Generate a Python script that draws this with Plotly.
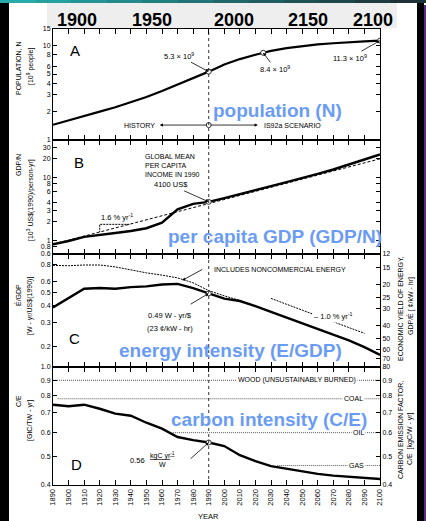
import math
import plotly.graph_objects as go

# ---------------- data ----------------
pop_years = [1890, 1900, 1910, 1920, 1930, 1940, 1950, 1960, 1970, 1980, 1990,
             2000, 2010, 2020, 2025, 2030, 2040, 2050, 2060, 2070, 2080, 2090, 2100]
pop_vals = [1.45, 1.62, 1.82, 2.0, 2.22, 2.5, 2.85, 3.3, 3.85, 4.5, 5.3,
            6.3, 7.2, 8.0, 8.4, 8.8, 9.4, 9.9, 10.3, 10.6, 10.9, 11.1, 11.3]
pop_marked_years = [1990, 2025, 2100]
pop_marked_vals = [5.3, 8.4, 11.3]

years = [1890, 1900, 1910, 1920, 1930, 1940, 1950, 1960, 1970, 1980, 1990,
         2000, 2010, 2020, 2030, 2040, 2050, 2060, 2070, 2080, 2090, 2100]
gdp_vals = [0.86, 0.97, 1.13, 1.2, 1.3, 1.4, 1.55, 1.9, 3.1, 3.8, 4.1,
            4.7, 5.4, 6.3, 7.3, 8.5, 9.8, 11.5, 13.5, 16.0, 19.5, 23.5]
gdp_trend_years = [1890, 2100]
gdp_trend_vals = [0.86, 20.0]
slope_tri_years = [1939, 1920, 1920]
slope_tri_vals = [1.79, 1.79, 1.35]

eint_vals = [0.387, 0.453, 0.53, 0.536, 0.53, 0.544, 0.551, 0.569, 0.575, 0.536, 0.49,
             0.448, 0.431, 0.396, 0.359, 0.326, 0.296, 0.268, 0.242, 0.222, 0.198, 0.174]
noncomm_years = [1890, 1900, 1910, 1920, 1930, 1940, 1950, 1960, 1970, 1980, 1990, 2000, 2010]
noncomm_vals = [0.785, 0.78, 0.79, 0.79, 0.765, 0.724, 0.692, 0.666, 0.636, 0.585, 0.513, 0.47, 0.435]
decline_years = [2030, 2090]
decline_vals = [0.45, 0.25]

cint_vals = [0.745, 0.736, 0.745, 0.722, 0.695, 0.684, 0.648, 0.619, 0.58, 0.566, 0.556,
             0.541, 0.504, 0.481, 0.463, 0.454, 0.443, 0.436, 0.43, 0.426, 0.422, 0.419]

fuel_names = ["WOOD (UNSUSTAINABLY BURNED)", "COAL", "OIL", "GAS"]
fuel_vals = [0.9, 0.78, 0.6, 0.465]
fuel_start = [1890, 1893, 1967, 2034]
fuel_label_year = [2047, 2083, 2086, 2085]

top_labels = ["1900", "1950", "2000", "2150", "2100"]

A_ticks = [1, 2, 3, 4, 5, 6, 8, 10, 15]
B_ticks = [0.6, 0.8, 1, 2, 3, 4, 6, 8, 10, 20, 30]
C_ticks = [0.2, 0.3, 0.4, 0.5, 0.6, 0.8]
C_right_ticks = [12, 15, 20, 25, 30, 40, 50, 60, 70, 80]
D_ticks = [0.4, 0.5, 0.6, 0.7, 0.8, 0.9, 1.0]
D_right_ticks = [0.4, 0.5, 0.6, 0.7, 0.8, 0.9]

# ---------------- layout helpers ----------------
W, H = 426, 521
ML, MR, MT, MB = 53, 46, 29, 36
PW, PH = W - ML - MR, H - MT - MB


def px_x(p):
    return (p - ML) / PW


def px_y(p):
    return (H - MB - p) / PH


L = math.log10
FONT = "Liberation Sans, Arial, sans-serif"
BLUE = "#6a9cf6"
TICKSIZE = 7
# conversion W-yr/$  ->  cents/kWh
CENT_PER_KWH = 100 / 8.766

fig = go.Figure()

def line(x, y, xa, ya, width=2.4, dash=None, color="black"):
    fig.add_trace(go.Scatter(x=x, y=y, xaxis=xa, yaxis=ya, mode="lines",
                             line=dict(color=color, width=width, dash=dash),
                             hoverinfo="skip", showlegend=False))

def dots(x, y, xa, ya):
    fig.add_trace(go.Scatter(x=x, y=y, xaxis=xa, yaxis=ya, mode="markers",
                             marker=dict(symbol="circle", size=5, color="white",
                                         line=dict(color="#333", width=1)),
                             hoverinfo="skip", showlegend=False))

# Panel A
line(pop_years, pop_vals, "x", "y", width=2.2)
# Panel B
line(gdp_trend_years, gdp_trend_vals, "x2", "y2", width=1, dash="3px,2px")
line(slope_tri_years, slope_tri_vals, "x2", "y2", width=1, dash="2px,1px")
line(years, gdp_vals, "x2", "y2")
# Panel C
line(noncomm_years, noncomm_vals, "x3", "y3", width=1, dash="2px,1px")
line(decline_years, decline_vals, "x3", "y3", width=1, dash="2px,1px")
line(years, eint_vals, "x3", "y3")
fig.add_trace(go.Scatter(x=[1990], y=[0.49], xaxis="x3", yaxis="y4", mode="markers",
                         marker=dict(opacity=0), hoverinfo="skip", showlegend=False))
# Panel D
for name, v, s in zip(fuel_names, fuel_vals, fuel_start):
    line([s, 2100], [v, v], "x4", "y5", width=1, dash="1px,1px", color="#555")
line(years, cint_vals, "x4", "y5")
fig.add_trace(go.Scatter(x=[1990], y=[0.556], xaxis="x4", yaxis="y6", mode="markers",
                         marker=dict(opacity=0), hoverinfo="skip", showlegend=False))

# markers
dots(pop_marked_years, pop_marked_vals, "x", "y")
dots([1990], [1.44], "x", "y")
dots([1990], [gdp_vals[years.index(1990)]], "x2", "y2")
dots([1990], [eint_vals[years.index(1990)]], "x3", "y3")
dots([1990], [cint_vals[years.index(1990)]], "x4", "y5")

# ---------------- axes ----------------
xcommon = dict(range=[1890, 2100], tick0=1890, dtick=10, ticks="inside", ticklen=5,
               showline=True, linecolor="black", linewidth=1, mirror="ticks",
               showgrid=False, zeroline=False, tickcolor="black",
               tickfont=dict(size=TICKSIZE + 0.5, family=FONT, color="black"))
ycommon = dict(type="log", ticks="inside", ticklen=4, showline=True, linecolor="black",
               linewidth=1, showgrid=False, zeroline=False, tickcolor="black",
               tickfont=dict(size=TICKSIZE, family=FONT, color="black"))

def fmt(v):
    return ("%g" % v) if v != 1.0 else "1"

dA = [px_y(140), 1.0]
dB = [px_y(254), px_y(140)]
dC = [px_y(366.7), px_y(254)]
dD = [0.0, px_y(366.7)]

rangeC = [L(CENT_PER_KWH / 80), L(CENT_PER_KWH / 12)]

fig.update_layout(
    xaxis=dict(xcommon, anchor="y", showticklabels=False, matches="x4"),
    xaxis2=dict(xcommon, anchor="y2", showticklabels=False, matches="x4"),
    xaxis3=dict(xcommon, anchor="y3", showticklabels=False, matches="x4"),
    xaxis4=dict(xcommon, anchor="y5", tickangle=-90),
    yaxis=dict(ycommon, domain=dA, range=[0, L(15)], anchor="x", mirror="ticks",
               tickvals=A_ticks, ticktext=[fmt(v) for v in A_ticks]),
    yaxis2=dict(ycommon, domain=dB, range=[L(0.6), L(40)], anchor="x2", mirror="ticks",
                tickvals=B_ticks, ticktext=[fmt(v) for v in B_ticks]),
    yaxis3=dict(ycommon, domain=dC, range=rangeC, anchor="x3",
                tickvals=C_ticks, ticktext=[fmt(v) for v in C_ticks]),
    yaxis4=dict(ycommon, domain=dC, range=rangeC, anchor="x3", overlaying="y3", side="right",
                tickvals=[CENT_PER_KWH / v for v in C_right_ticks],
                ticktext=[str(v) for v in C_right_ticks]),
    yaxis5=dict(ycommon, domain=dD, range=[L(0.4), 0], anchor="x4",
                tickvals=D_ticks, ticktext=["%.1f" % v for v in D_ticks]),
    yaxis6=dict(ycommon, domain=dD, range=[L(0.4), 0], anchor="x4", overlaying="y5", side="right",
                tickvals=D_right_ticks, ticktext=["%.1f" % v for v in D_right_ticks]),
)

# ---------------- annotations ----------------
ann = []

def txt(text, x, y, xref, yref, size=7.5, **kw):
    d = dict(text=text, x=x, y=y, xref=xref, yref=yref, showarrow=False,
             xanchor="center", yanchor="middle",
             font=dict(size=size, family=FONT, color=kw.pop("color", "black")))
    d.update(kw)
    ann.append(d)

def arrow(text, x, y, xref, yref, ax, ay, size=7.5, **kw):
    d = dict(text=text, x=x, y=y, xref=xref, yref=yref, showarrow=True, ax=ax, ay=ay,
             arrowhead=2, arrowsize=0.8, arrowwidth=0.8, arrowcolor="black",
             font=dict(size=size, family=FONT, color="black"))
    d.update(kw)
    ann.append(d)

# panel letters
txt("A", 1904, L(8.8), "x", "y", size=15)
txt("B", 1907, L(17.5), "x2", "y2", size=15)
txt("C", 1904, L(0.228), "x3", "y3", size=15)
txt("D", 1905, L(0.47), "x4", "y5", size=15)

# panel A
arrow("5.3 × 10<sup>9</sup>", 1990, L(5.3), "x", "y", -30, -16)
arrow("8.4 × 10<sup>9</sup>", 2025, L(8.4), "x", "y", 12, 16)
arrow("11.3 × 10<sup>9</sup>", 2100, L(11.3), "x", "y", -30, 17)
txt("HISTORY", 1956.6, L(1.44), "x", "y", size=7, xanchor="right")
txt("IS92a SCENARIO", 2024, L(1.44), "x", "y", size=7, xanchor="left")
for head in (1958.6, 2021.5):
    ann.append(dict(x=head, y=L(1.44), ax=1990, ay=L(1.44), xref="x", yref="y",
                    axref="x", ayref="y", text=" ", showarrow=True, arrowhead=2,
                    arrowsize=0.8, arrowwidth=0.8, arrowcolor="black",
                    font=dict(size=2)))

# panel B
txt("GLOBAL MEAN<br>PER CAPITA<br>INCOME IN 1990", 1947.7, L(15.6), "x2", "y2", size=7,
    xanchor="left", align="left")
arrow("4100 US$", 1990, L(4.1), "x2", "y2", -38, -17)
txt("1.6 % yr<sup>-1</sup>", 1931, L(2.35), "x2", "y2", size=7.5)

# panel C
txt("INCLUDES NONCOMMERCIAL ENERGY", 1992, L(0.728), "x3", "y3", size=7, xanchor="left")
arrow(" ", 1973, L(0.61), "x3", "y3", 22, -12, size=2)
txt("0.49 W - yr/$", 1965, L(0.338), "x3", "y3", size=7.5)
txt("(23 ¢/kW - hr)", 1965, L(0.27), "x3", "y3", size=7.5)
arrow(" ", 1990, L(0.49), "x3", "y3", -20, 12, size=2)
txt("– 1.0 % yr<sup>-1</sup>", 2070, L(0.335), "x3", "y3", size=7.5, bgcolor="white")

# panel D
for name, v, ly in zip(fuel_names, fuel_vals, fuel_label_year):
    txt(name, ly, L(v), "x4", "y5", size=7, bgcolor="white")
txt("0.56", 1944, L(0.485), "x4", "y5", size=7.5)
txt("<u>kgC yr<sup>-1</sup></u><br>W", 1960.5, L(0.489), "x4", "y5", size=7)
arrow(" ", 1990, L(0.556), "x4", "y5", -20, 18, size=2)

# axis titles (rotated)
side_titles = [("POPULATION, N", 18, 68), ("[10<sup>9</sup> people]", 30, 67),
               ("GDP/N", 18, 165), ("[10<sup>3</sup> US$(1990)/person-yr]", 30, 200),
               ("Ė/GDP", 18, 295), ("[W - yr/US$(1990)]", 30, 306),
               ("C/E", 18, 401), ("[GtC/TW - yr]", 30, 421),
               ("ECONOMIC YIELD OF ENERGY,", 400, 309), ("GDP/Ė [ ¢/kW - hr]", 410, 306),
               ("CARBON EMISSION FACTOR,", 400, 430), ("C/E  [kgC/W - yr]", 410, 438)]
for t, px, py in side_titles:
    txt(t, px_x(px), px_y(py), "paper", "paper", size=7, textangle=-90)
txt("YEAR", 1990, px_y(516), "x4", "paper", size=7.5)

# blue overlay titles
blue_titles = [("population (N)", 277, 110), ("per capita GDP (GDP/N)", 274.5, 236),
               ("energy intensity (E/GDP)", 230, 350), ("carbon intensity (C/E)", 268.5, 419)]
for t, px, py in blue_titles:
    txt("<b>%s</b>" % t, px_x(px), px_y(py), "paper", "paper", size=19, color=BLUE)

# top year strip
for t, px in zip(top_labels, [76.5, 152, 234, 308, 372.5]):
    txt("<b>%s</b>" % t, px_x(px), px_y(20), "paper", "paper", size=18)

# ---------------- shapes ----------------
shapes = [dict(type="line", xref="x", yref="paper", x0=1990, x1=1990, y0=0, y1=1,
               line=dict(color="black", width=0.8, dash="dot"))]

def rect(x0, y0, x1, y1, color, layer="above"):
    shapes.append(dict(type="rect", xref="paper", yref="paper",
                       x0=px_x(x0), x1=px_x(x1), y0=px_y(y1), y1=px_y(y0),
                       fillcolor=color, line=dict(width=0), layer=layer))

rect(47, 3, 397, 28, "#eeeeee", layer="below")
rect(0, 0, 9, H, "black")
rect(417, 0, 424, H, "black")
rect(424, 5, W, H, "#5a2a8a")
# top teal gradient band
n = 12
c0 = (40, 170, 170)
c1 = (28, 50, 55)
for i in range(n):
    f = i / (n - 1)
    c = tuple(int(c0[k] + (c1[k] - c0[k]) * f) for k in range(3))
    rect(W * i / n, 0, W * (i + 1) / n + 0.5, 3, "rgb(%d,%d,%d)" % c)

fig.update_layout(
    width=W, height=H, template="none",
    margin=dict(l=ML, r=MR, t=MT, b=MB, autoexpand=False),
    paper_bgcolor="white", plot_bgcolor="white",
    showlegend=False, annotations=ann, shapes=shapes,
    font=dict(family=FONT, color="black", size=8),
)

fig.write_html("out.html", config={"displayModeBar": False},
               post_script="document.body.style.margin='0';document.body.style.overflow='hidden';")
